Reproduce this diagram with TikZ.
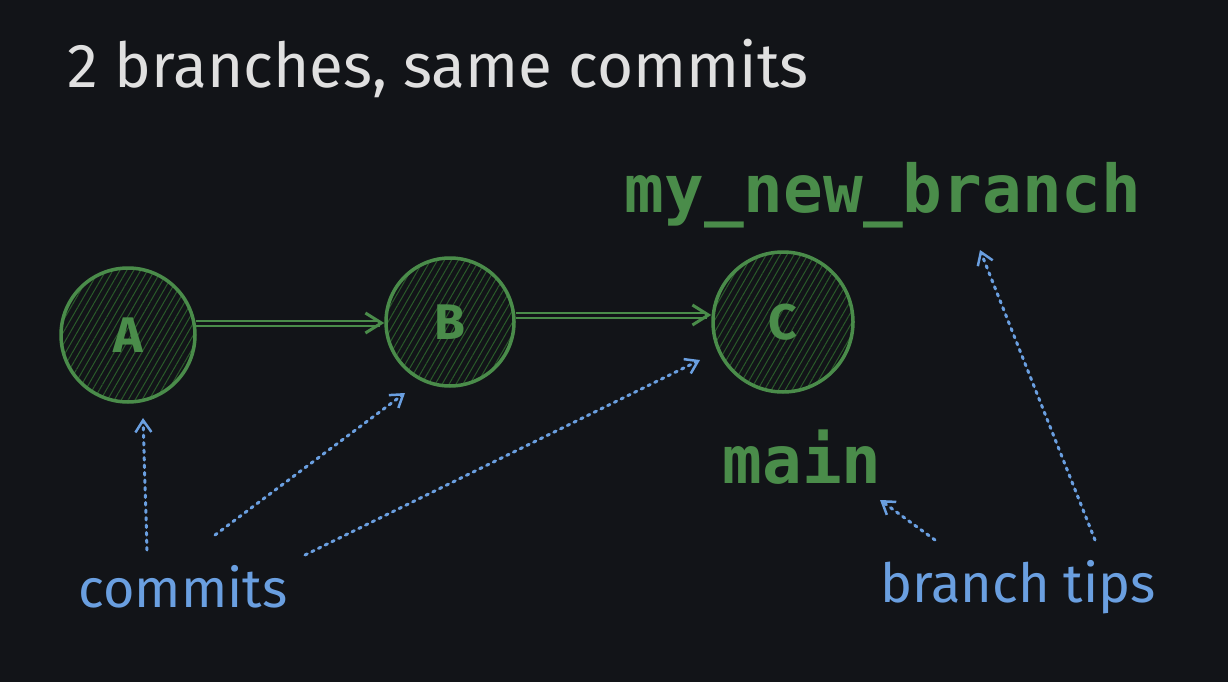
\documentclass[tikz,border=0pt]{standalone}
\usepackage{fontspec}
\setmainfont{Fira Sans}
\setmonofont{DejaVu Sans Mono}
\usetikzlibrary{patterns.meta,arrows.meta}
\definecolor{bg}{HTML}{121418}
\definecolor{gr}{HTML}{4A8C4A}
\definecolor{dg}{HTML}{2A5A2A}
\definecolor{bl}{HTML}{6A9FE0}
\definecolor{wt}{HTML}{E0E0E0}
\begin{document}
\begin{tikzpicture}[x=1pt,y=-1pt,
  commit/.style={circle,draw=gr,line width=3.5pt,pattern={Lines[angle=60,distance=6pt,line width=1pt]},pattern color=dg,text=gr,font=\fontsize{50}{50}\selectfont\bfseries},
  lbl/.style={text=gr,font=\ttfamily\bfseries\fontsize{66}{66}\selectfont,anchor=center},
  note/.style={text=bl,font=\fontsize{54}{54}\selectfont},
  link/.style={gr,line width=2pt,double=bg,double distance=3pt,-{Straight Barb[length=16pt,width=20pt,line width=3pt]}},
  ptr/.style={bl,line width=3pt,dash pattern=on 2.5pt off 5pt,line cap=round,-{Straight Barb[length=12pt,width=16pt,line width=2.5pt]}}]
\useasboundingbox[fill=bg] (0,0) rectangle (1228,682);
\node[text=wt,font=\fontsize{62}{62}\selectfont,anchor=west] (title) at (64,68) {2 branches, same commits};
\node[commit,minimum size=134pt] (A) at (128,335) {A};
\node[commit,minimum size=128pt] (B) at (450,322) {B};
\node[commit,minimum size=140pt] (C) at (783,322) {C};
\draw[link] (A.east |- 0,323) -- (B.west |- 0,323);
\draw[link] (B.east |- 0,315) -- (C.west |- 0,315);
\node[lbl] (nb) at (883,195) {my\_new\_branch};
\node[lbl] (main) at (802,457) {main};
\node[note] (commits) at (183,587) {commits};
\node[note] (tips) at (1018,587) {branch tips};
\coordinate (c1) at (147,550); \coordinate (c2) at (215,535); \coordinate (c3) at (305,555);
\coordinate (t1) at (935,540); \coordinate (t2) at (1095,540);
\draw[ptr] (c1) -- (143,418);
\draw[ptr] (c2) -- (405,393);
\draw[ptr] (c3) -- (700,360);
\draw[ptr] (t1) -- (880,500);
\draw[ptr] (t2) -- (980,250);
\end{tikzpicture}
\end{document}
